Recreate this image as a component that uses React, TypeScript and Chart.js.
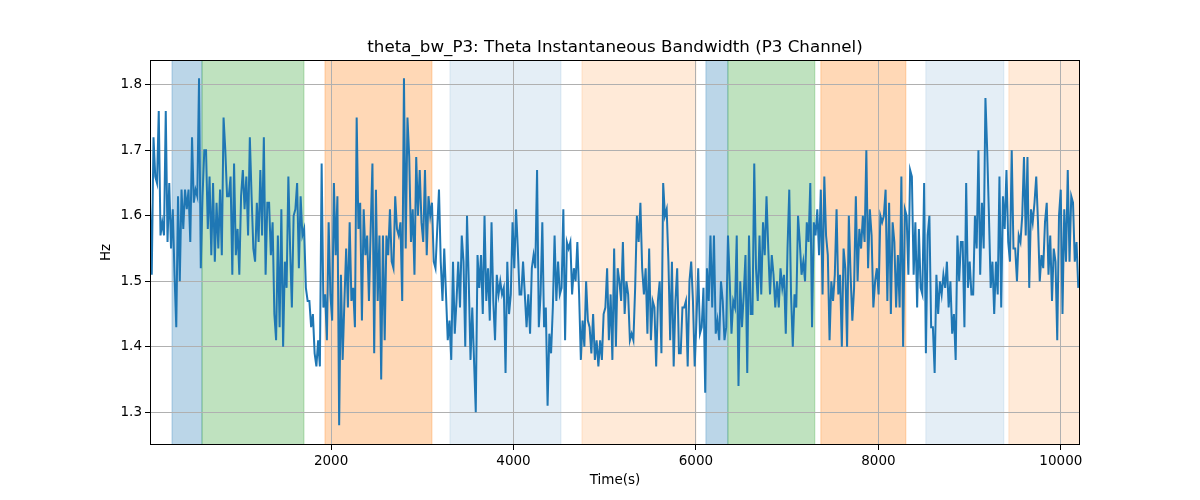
import React, { useEffect, useRef } from "react";
import Chart from "chart.js/auto";
import type { Plugin } from "chart.js";

const TITLE = "theta_bw_P3: Theta Instantaneous Bandwidth (P3 Channel)";
const X_LABEL = "Time(s)";
const Y_LABEL = "Hz";
const X_TICKS = [2000, 4000, 6000, 8000, 10000];
const Y_TICKS = [1.3, 1.4, 1.5, 1.6, 1.7, 1.8];
const X_MIN = 15;
const X_MAX = 10210;
const Y_MIN = 1.25;
const Y_MAX = 1.838;
const T_START = 15;
const T_STEP = 19.2;

// bandwidth readings, left to right
const SEG_1 = [
  1.62, 1.51, 1.72, 1.66, 1.65, 1.76, 1.57, 1.59, 1.57, 1.76,
  1.56, 1.65, 1.55, 1.61, 1.51, 1.43, 1.63, 1.5, 1.64, 1.58,
  1.64, 1.61, 1.64, 1.56, 1.72, 1.62, 1.64, 1.63, 1.81, 1.52,
  1.63, 1.7, 1.7, 1.58, 1.66, 1.54, 1.65, 1.53, 1.62, 1.55,
  1.64, 1.54, 1.75, 1.7, 1.63, 1.63, 1.66, 1.51, 1.68, 1.54,
  1.58, 1.51, 1.63, 1.67, 1.61, 1.66, 1.57, 1.72, 1.63, 1.55,
  1.53, 1.62, 1.56, 1.67, 1.57, 1.72, 1.51, 1.62,
];
const SEG_2 = [
  1.62, 1.54, 1.59, 1.45, 1.41, 1.57, 1.43, 1.61, 1.4, 1.53,
  1.49, 1.66, 1.55, 1.46, 1.6, 1.61, 1.65, 1.52, 1.63, 1.57,
  1.58, 1.49, 1.47, 1.47, 1.43, 1.45, 1.39, 1.37, 1.41, 1.37,
  1.68, 1.46, 1.48, 1.41, 1.59, 1.48, 1.44, 1.65, 1.54, 1.63,
  1.28, 1.51, 1.38, 1.47, 1.55, 1.46, 1.59, 1.47, 1.49, 1.43,
  1.75, 1.58, 1.62, 1.44, 1.61, 1.54, 1.57, 1.47, 1.58, 1.68,
  1.39, 1.64, 1.47, 1.57, 1.35, 1.57, 1.41, 1.57,
];
const SEG_3 = [
  1.54, 1.61, 1.53, 1.52, 1.63, 1.58, 1.57, 1.59, 1.47, 1.81,
  1.55, 1.75, 1.69, 1.56, 1.61, 1.51, 1.69, 1.6, 1.67, 1.59,
  1.56, 1.67, 1.54, 1.63, 1.6, 1.62, 1.53, 1.52, 1.58, 1.64,
  1.53, 1.47, 1.55, 1.48, 1.41, 1.44, 1.38, 1.53, 1.42, 1.47,
  1.53, 1.46, 1.57, 1.53, 1.4, 1.6, 1.5, 1.38, 1.46, 1.38,
  1.3, 1.54, 1.49, 1.54, 1.45, 1.6, 1.47, 1.52, 1.44, 1.59,
  1.47, 1.41, 1.51, 1.48, 1.5, 1.48, 1.49, 1.36,
];
const SEG_4 = [
  1.53, 1.45, 1.48, 1.59, 1.52, 1.61, 1.55, 1.48, 1.48, 1.53,
  1.48, 1.43, 1.48, 1.42, 1.52, 1.54, 1.52, 1.67, 1.43, 1.48,
  1.59, 1.43, 1.46, 1.31, 1.42, 1.39, 1.46, 1.57, 1.47, 1.53,
  1.48, 1.49, 1.61, 1.41, 1.56, 1.55, 1.56, 1.48, 1.52, 1.5,
  1.56, 1.48, 1.38, 1.44, 1.4, 1.5, 1.44, 1.43, 1.39, 1.45,
  1.38, 1.41, 1.37, 1.41, 1.38, 1.45, 1.46, 1.52, 1.41, 1.48,
  1.38, 1.55, 1.4, 1.52, 1.5, 1.47, 1.56, 1.45, 1.5, 1.48,
  1.41, 1.42,
];
const SEG_5 = [
  1.41, 1.49, 1.6, 1.56, 1.62, 1.52, 1.48, 1.52, 1.42, 1.55,
  1.41, 1.47, 1.46, 1.37, 1.47, 1.5, 1.39, 1.65, 1.6, 1.61,
  1.53, 1.41, 1.53, 1.37, 1.47, 1.52, 1.39, 1.39, 1.46, 1.46,
  1.47, 1.37, 1.5, 1.53, 1.47, 1.37, 1.44, 1.52, 1.42, 1.43,
  1.49, 1.33, 1.52, 1.47, 1.57, 1.46, 1.57, 1.42, 1.44, 1.41,
  1.5, 1.47, 1.41, 1.43, 1.57, 1.5, 1.42, 1.47, 1.46, 1.57,
  1.34, 1.5, 1.43, 1.48, 1.54, 1.36, 1.57, 1.45,
];
const SEG_6 = [
  1.45, 1.68, 1.52, 1.47, 1.57, 1.48, 1.59, 1.54, 1.63, 1.55,
  1.48, 1.54, 1.51, 1.46, 1.5, 1.46, 1.52, 1.49, 1.51, 1.42,
  1.55, 1.64, 1.48, 1.4, 1.48, 1.46, 1.6, 1.56, 1.51, 1.53,
  1.5, 1.59, 1.56, 1.65, 1.43, 1.59, 1.57, 1.61, 1.54, 1.64,
  1.48, 1.66, 1.57, 1.54, 1.41, 1.5, 1.47, 1.51, 1.61, 1.48,
  1.51, 1.4, 1.55, 1.52, 1.4, 1.6, 1.51, 1.44, 1.49, 1.63,
  1.5, 1.58, 1.55, 1.6, 1.56, 1.7, 1.52,
];
const SEG_7 = [
  1.61, 1.57, 1.46, 1.5, 1.52, 1.48, 1.6, 1.59, 1.6, 1.64,
  1.47, 1.62, 1.45, 1.59, 1.56, 1.46, 1.54, 1.46, 1.66, 1.4,
  1.61, 1.6, 1.51, 1.67, 1.66, 1.51, 1.59, 1.46, 1.58, 1.49,
  1.48, 1.65, 1.39, 1.57, 1.6, 1.43, 1.43, 1.36, 1.51, 1.45,
  1.5, 1.48, 1.51, 1.49, 1.53, 1.46, 1.5, 1.42, 1.45, 1.38,
  1.57, 1.5, 1.56, 1.56, 1.43, 1.65, 1.49, 1.53, 1.48, 1.48,
  1.6, 1.55, 1.7, 1.51, 1.62, 1.55, 1.78, 1.7, 1.6, 1.49, 1.53,
];
const SEG_8 = [
  1.45, 1.53, 1.48, 1.66, 1.46, 1.63, 1.58, 1.67, 1.56, 1.53,
  1.7, 1.55, 1.55, 1.5, 1.57, 1.56, 1.6, 1.69, 1.57, 1.69,
  1.49, 1.61, 1.59, 1.62, 1.66, 1.59, 1.5, 1.54, 1.52, 1.59,
  1.62, 1.51, 1.57, 1.47, 1.55, 1.53, 1.41, 1.6, 1.64, 1.45,
  1.61, 1.53, 1.67, 1.53, 1.63, 1.62, 1.53, 1.56, 1.49,
];
const BW_P3 = [...SEG_1, ...SEG_2, ...SEG_3, ...SEG_4, ...SEG_5, ...SEG_6, ...SEG_7, ...SEG_8];
const TIME = BW_P3.map((_, i) => T_START + i * T_STEP);

// shaded stages along the time axis
const SPAN_START = [256, 585, 1933, 3303, 4750, 6109, 6350, 7369, 8520, 9430];
const SPAN_END = [585, 1703, 3106, 4520, 6000, 6350, 7303, 8301, 9375, 10210];
const SPAN_KIND = ["blue", "green", "orange", "paleBlue", "paleOrange", "blue", "green", "orange", "paleBlue", "paleOrange"];

const SPAN_FILL: Record<string, string> = {
  blue: "rgba(31,119,180,0.3)",
  green: "rgba(44,160,44,0.3)",
  orange: "rgba(255,127,14,0.3)",
  paleBlue: "rgba(31,119,180,0.12)",
  paleOrange: "rgba(255,127,14,0.16)",
};

const LINE = "#1f77b4";
const GRID = "#b0b0b0";
const FONT = "'DejaVu Sans', sans-serif";

export default function App() {
  const canvasRef = useRef<HTMLCanvasElement | null>(null);

  useEffect(() => {
    const ctx = canvasRef.current?.getContext("2d");
    if (!ctx) return;

    const spans: Plugin<"line"> = {
      id: "spans",
      beforeDraw(c) {
        const { ctx, chartArea } = c;
        const xs: any = c.scales.x;
        ctx.save();
        ctx.beginPath();
        ctx.rect(chartArea.left, chartArea.top, chartArea.right - chartArea.left, chartArea.bottom - chartArea.top);
        ctx.clip();
        SPAN_START.forEach((s, i) => {
          const x0 = xs.getPixelForValue(s);
          const x1 = xs.getPixelForValue(SPAN_END[i]);
          ctx.fillStyle = SPAN_FILL[SPAN_KIND[i]];
          ctx.fillRect(x0, chartArea.top, x1 - x0, chartArea.bottom - chartArea.top);
          ctx.strokeStyle = SPAN_FILL[SPAN_KIND[i]];
          ctx.lineWidth = 1;
          ctx.strokeRect(x0, chartArea.top - 2, x1 - x0, chartArea.bottom - chartArea.top + 4);
        });
        ctx.restore();
      },
    };

    // axes frame + title centred over the plot area (matplotlib style)
    const frame: Plugin<"line"> = {
      id: "frame",
      afterDraw(c) {
        const { ctx, chartArea } = c;
        ctx.save();
        ctx.strokeStyle = "#000";
        ctx.lineWidth = 1;
        ctx.strokeRect(
          Math.round(chartArea.left) + 0.5,
          Math.round(chartArea.top) + 0.5,
          Math.round(chartArea.right - chartArea.left) - 1,
          Math.round(chartArea.bottom - chartArea.top) - 1
        );
        ctx.fillStyle = "#000";
        ctx.font = `16.7px ${FONT}`;
        ctx.textAlign = "center";
        ctx.textBaseline = "alphabetic";
        ctx.fillText(TITLE, (chartArea.left + chartArea.right) / 2, chartArea.top - 8);
        ctx.restore();
      },
    };

    const chart = new Chart(ctx, {
      type: "line",
      data: {
        datasets: [
          {
            label: "theta_bw_P3",
            data: TIME.map((t, i) => ({ x: t, y: BW_P3[i] })),
            borderColor: LINE,
            backgroundColor: LINE,
            borderWidth: 2,
            pointRadius: 0,
            tension: 0,
          },
        ],
      },
      options: {
        animation: false,
        responsive: true,
        maintainAspectRatio: false,
        layout: { padding: { left: 0, right: 120, top: 60, bottom: 0 } },
        plugins: {
          legend: { display: false },
          tooltip: { enabled: false },
          title: { display: false },
        },
        scales: {
          x: {
            type: "linear",
            min: X_MIN,
            max: X_MAX,
            afterBuildTicks: (s: any) => {
              s.ticks = X_TICKS.map((v) => ({ value: v }));
            },
            afterFit: (s: any) => {
              s.height = 55;
            },
            ticks: {
              color: "#000",
              font: { family: FONT, size: 13.5 },
              padding: 3,
              maxRotation: 0,
              callback: (v: any) => String(v),
            },
            grid: { color: GRID, lineWidth: 1, tickLength: 5, tickColor: "#000" },
            border: { display: false },
            title: {
              display: true,
              text: X_LABEL,
              color: "#000",
              font: { family: FONT, size: 13.5 },
              padding: { top: 0, bottom: 11 },
            },
          },
          y: {
            min: Y_MIN,
            max: Y_MAX,
            afterBuildTicks: (s: any) => {
              s.ticks = Y_TICKS.map((v) => ({ value: v }));
            },
            afterFit: (s: any) => {
              s.width = 150;
            },
            ticks: {
              color: "#000",
              font: { family: FONT, size: 13.5 },
              padding: 3,
              callback: (v: any) => Number(v).toFixed(1),
            },
            grid: { color: GRID, lineWidth: 1, tickLength: 5, tickColor: "#000" },
            border: { display: false },
            title: {
              display: true,
              text: Y_LABEL,
              color: "#000",
              font: { family: FONT, size: 13.5 },
              padding: { top: 98, bottom: 0 },
            },
          },
        },
      },
      plugins: [spans, frame],
    });

    return () => {
      chart.destroy();
    };
  }, []);

  return (
    <div style={{ position: "absolute", left: 0, top: 0, width: 1200, height: 500, background: "#fff" }}>
      <canvas ref={canvasRef} />
    </div>
  );
}
